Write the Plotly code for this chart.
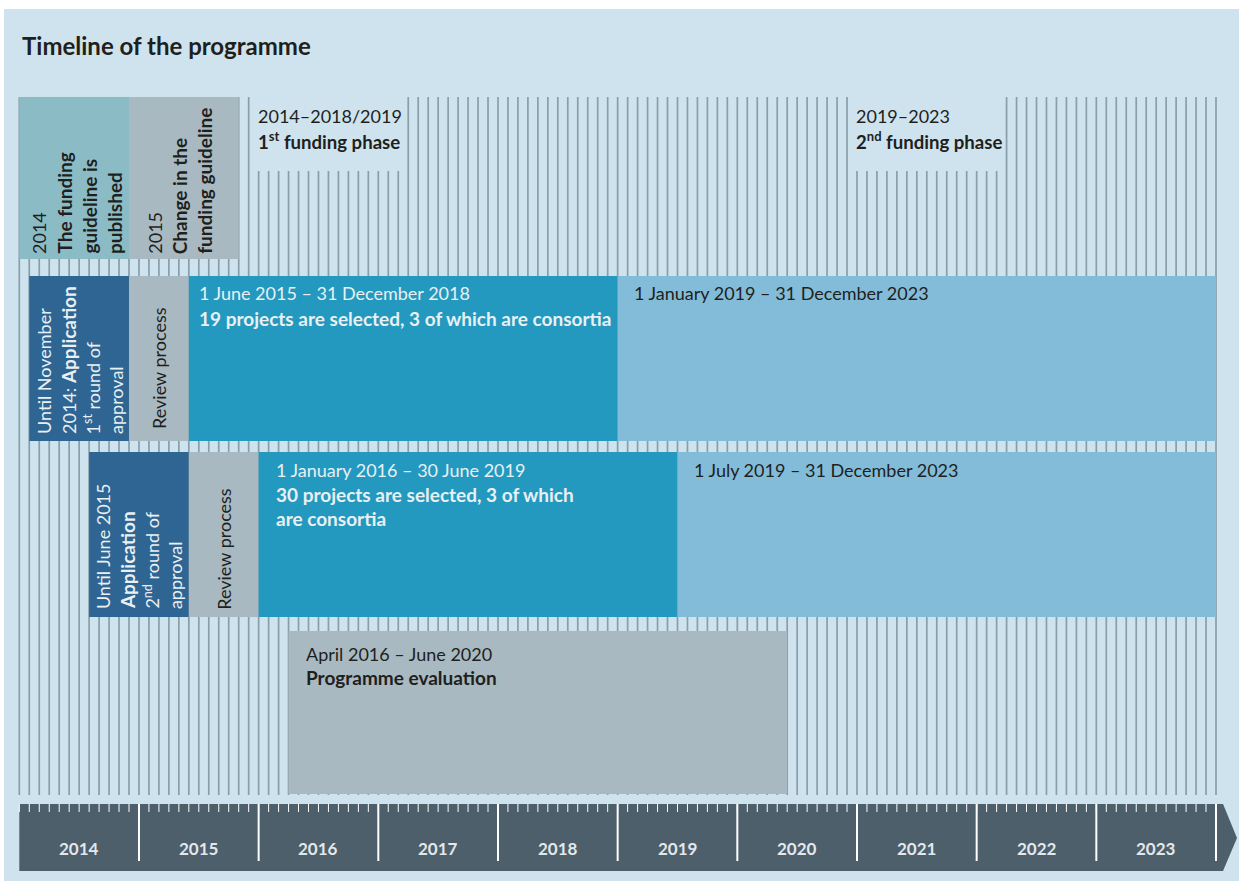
import plotly.graph_objects as go

W, H = 1239, 881
FONT = "Lato"
DARK = "#1f1f1d"
LIGHT = "#e9f0f3"
FS = 18      # regular text size
FSB = 19     # bold text size


def B(t, size=FSB):
    return f'<b><span style="font-size:{size}px">{t}</span></b>'


# ---------------- data ----------------
YEARS = [2014, 2015, 2016, 2017, 2018, 2019, 2020, 2021, 2022, 2023]

# each bar: row, first month, first month after the bar (YYYY-MM)
BAR_ROW = ["top", "top", "r1", "r1", "r1", "r1", "r2", "r2", "r2", "r2", "r3"]
BAR_START = ["2014-01", "2014-12", "2014-02", "2014-12", "2015-06", "2019-01",
             "2014-08", "2015-06", "2016-01", "2019-07", "2016-04"]
BAR_END = ["2014-12", "2015-11", "2014-12", "2015-06", "2019-01", "2024-01",
           "2015-06", "2016-01", "2019-07", "2024-01", "2020-06"]
BAR_KIND = ["publish", "review", "apply", "review", "fund", "fund2",
            "apply", "review", "fund", "fund2", "review"]

# vertical (rotated) labels: bar index -> columns
VLABELS = {
    0: ["2014", B("The funding"), B("guideline is"), B("published")],
    1: ["2015", B("Change in the"), B("funding guideline")],
    2: ["Until November", "2014: " + B("Application"), "1<sup>st</sup> round of", "approval"],
    3: ["Review process"],
    6: ["Until June 2015", B("Application"), "2<sup>nd</sup> round of", "approval"],
    7: ["Review process"],
}
# horizontal labels: bar index -> lines
HLABELS = {
    4: ["1 June 2015 – 31 December 2018",
        B("19 projects are selected, 3 of which are consortia")],
    5: ["1 January 2019 – 31 December 2023"],
    8: ["1 January 2016 – 30 June 2019",
        B("30 projects are selected, 3 of which"), B("are consortia")],
    9: ["1 July 2019 – 31 December 2023"],
    10: ["April 2016 – June 2020", B("Programme evaluation")],
}

# funding phase headers: first month of the label gap, gap length in months
PHASE_START = ["2016-01", "2021-01"]
PHASE_GAP = [15, 15]
PHASE_DATES = ["2014–2018/2019", "2019–2023"]
PHASE_NAMES = [B("1<sup>st</sup> funding phase", 18.6), B("2<sup>nd</sup> funding phase", 18.6)]

TITLE = "Timeline of the programme"

# ---------------- style / layout ----------------
KIND_COLOR = {"publish": "#8bbcc6", "review": "#a9b9c1", "apply": "#2f6592",
              "fund": "#2399bf", "fund2": "#83bcd8"}
KIND_TEXT = {"publish": DARK, "review": DARK, "apply": LIGHT,
             "fund": LIGHT, "fund2": DARK}
ROW_Y = {"top": (97, 259), "r1": (276, 441), "r2": (452, 617), "r3": (631, 794)}

X0_PX, X120_PX = 19.3, 1216.0
PPM = (X120_PX - X0_PX) / 120.0  # pixels per month


def mon(s):
    y, m = map(int, s.split("-"))
    return (y - YEARS[0]) * 12 + (m - 1)


def px(p):  # pixel distance -> months
    return p / PPM


NMONTHS = len(YEARS) * 12
starts = [mon(s) for s in BAR_START]
ends = [mon(s) for s in BAR_END]

fig = go.Figure()

shapes = []
# panel
shapes.append(dict(type="rect", xref="paper", yref="paper", x0=4 / W, x1=1, y0=0,
                   y1=1 - 9 / H, fillcolor="#cee3ee", line_width=0, layer="below"))
# month lines
gap_months = set()
for ps, g in zip(PHASE_START, PHASE_GAP):
    for k in range(g):
        gap_months.add(mon(ps) + k)
for m in range(NMONTHS + 1):
    y0 = 171 if m in gap_months else 97
    shapes.append(dict(type="line", xref="x", yref="y", x0=m, x1=m, y0=y0, y1=795,
                       line=dict(color="#899ea8", width=1.7), layer="below"))
# axis band with arrow
xr = NMONTHS + px(7)
xt = NMONTHS + px(21)
shapes.append(dict(type="path", xref="x", yref="y",
                   path=f"M 0,804 L {xr},804 L {xt},838 L {xr},871 L 0,871 Z",
                   fillcolor="#4c5f6b", line_width=0, layer="below"))

# bars
fig.add_trace(go.Bar(
    orientation="h",
    base=starts,
    x=[e - s for s, e in zip(starts, ends)],
    y=[(ROW_Y[r][0] + ROW_Y[r][1]) / 2 for r in BAR_ROW],
    width=[ROW_Y[r][1] - ROW_Y[r][0] for r in BAR_ROW],
    marker=dict(color=[KIND_COLOR[k] for k in BAR_KIND], line_width=0),
    hoverinfo="skip", showlegend=False,
))

# axis ticks
tx, ty = [], []
for m in range(NMONTHS + 1):
    tx += [m, m, None]
    ty += [804, 812, None]
fig.add_trace(go.Scatter(x=tx, y=ty, mode="lines", line=dict(color="white", width=1),
                         hoverinfo="skip", showlegend=False))
yx, yy = [], []
for i in range(1, len(YEARS) + 1):
    yx += [i * 12, i * 12, None]
    yy += [804, 861, None]
fig.add_trace(go.Scatter(x=yx, y=yy, mode="lines", line=dict(color="white", width=2),
                         hoverinfo="skip", showlegend=False))

ann = []
# year labels
for i, yr in enumerate(YEARS):
    ann.append(dict(x=i * 12 + 6, y=848, text=f"<b>{yr}</b>", showarrow=False,
                    font=dict(family=FONT, size=17, color="#e3e8eb"),
                    xanchor="center", yanchor="middle"))

# title
ann.append(dict(x=px(20 - X0_PX), y=45, text=f"<b>{TITLE}</b>", showarrow=False,
                font=dict(family=FONT, size=24, color=DARK), xanchor="left", yanchor="middle"))

# phase headers
for ps, d, n in zip(PHASE_START, PHASE_DATES, PHASE_NAMES):
    xm = mon(ps) - px(2.5)
    ann.append(dict(x=xm, y=116, text=d, showarrow=False,
                    font=dict(family=FONT, size=FS, color=DARK), xanchor="left", yanchor="middle"))
    ann.append(dict(x=xm, y=140, text=n, showarrow=False,
                    font=dict(family=FONT, size=FS, color=DARK), xanchor="left", yanchor="middle"))

# rotated labels: (first column offset px, spacing px, bottom y px)
VPOS = {0: (19.7, 25, 256), 1: (25.7, 24.5, 256), 2: (14.7, 24, 436),
        3: (None, 0, 431), 6: (14, 24, 611), 7: (None, 0, 612)}
for bi, cols in VLABELS.items():
    off, sp, yb = VPOS[bi]
    col = KIND_TEXT[BAR_KIND[bi]]
    for j, t in enumerate(cols):
        if off is None:
            xc = (starts[bi] + ends[bi]) / 2
        else:
            xc = starts[bi] + px(off + j * sp)
        ann.append(dict(x=xc, y=yb, text=t, textangle=-90, showarrow=False,
                        font=dict(family=FONT, size=FS, color=col),
                        xanchor="center", yanchor="bottom"))

# horizontal labels: (x offset px, first line y, spacing)
HPOS = {4: (8.5, 293, 25), 5: (14, 293, 24), 8: (15.4, 470, 24), 9: (15, 470, 24),
        10: (15, 654, 23)}
for bi, lines in HLABELS.items():
    off, y0, sp = HPOS[bi]
    col = KIND_TEXT[BAR_KIND[bi]]
    for j, t in enumerate(lines):
        ann.append(dict(x=starts[bi] + px(off), y=y0 + j * sp, text=t, showarrow=False,
                        font=dict(family=FONT, size=FS, color=col),
                        xanchor="left", yanchor="middle"))

fig.update_layout(
    width=W, height=H, margin=dict(l=0, r=0, t=0, b=0),
    paper_bgcolor="white", plot_bgcolor="white",
    xaxis=dict(range=[-X0_PX / PPM, (W - X0_PX) / PPM], visible=False, fixedrange=True),
    yaxis=dict(range=[H, 0], visible=False, fixedrange=True),
    shapes=shapes, annotations=ann, showlegend=False, barmode="overlay",
)

fig.write_html("out.html", config={"displayModeBar": False},
               post_script="document.body.style.margin='0';document.body.style.overflow='hidden';")
